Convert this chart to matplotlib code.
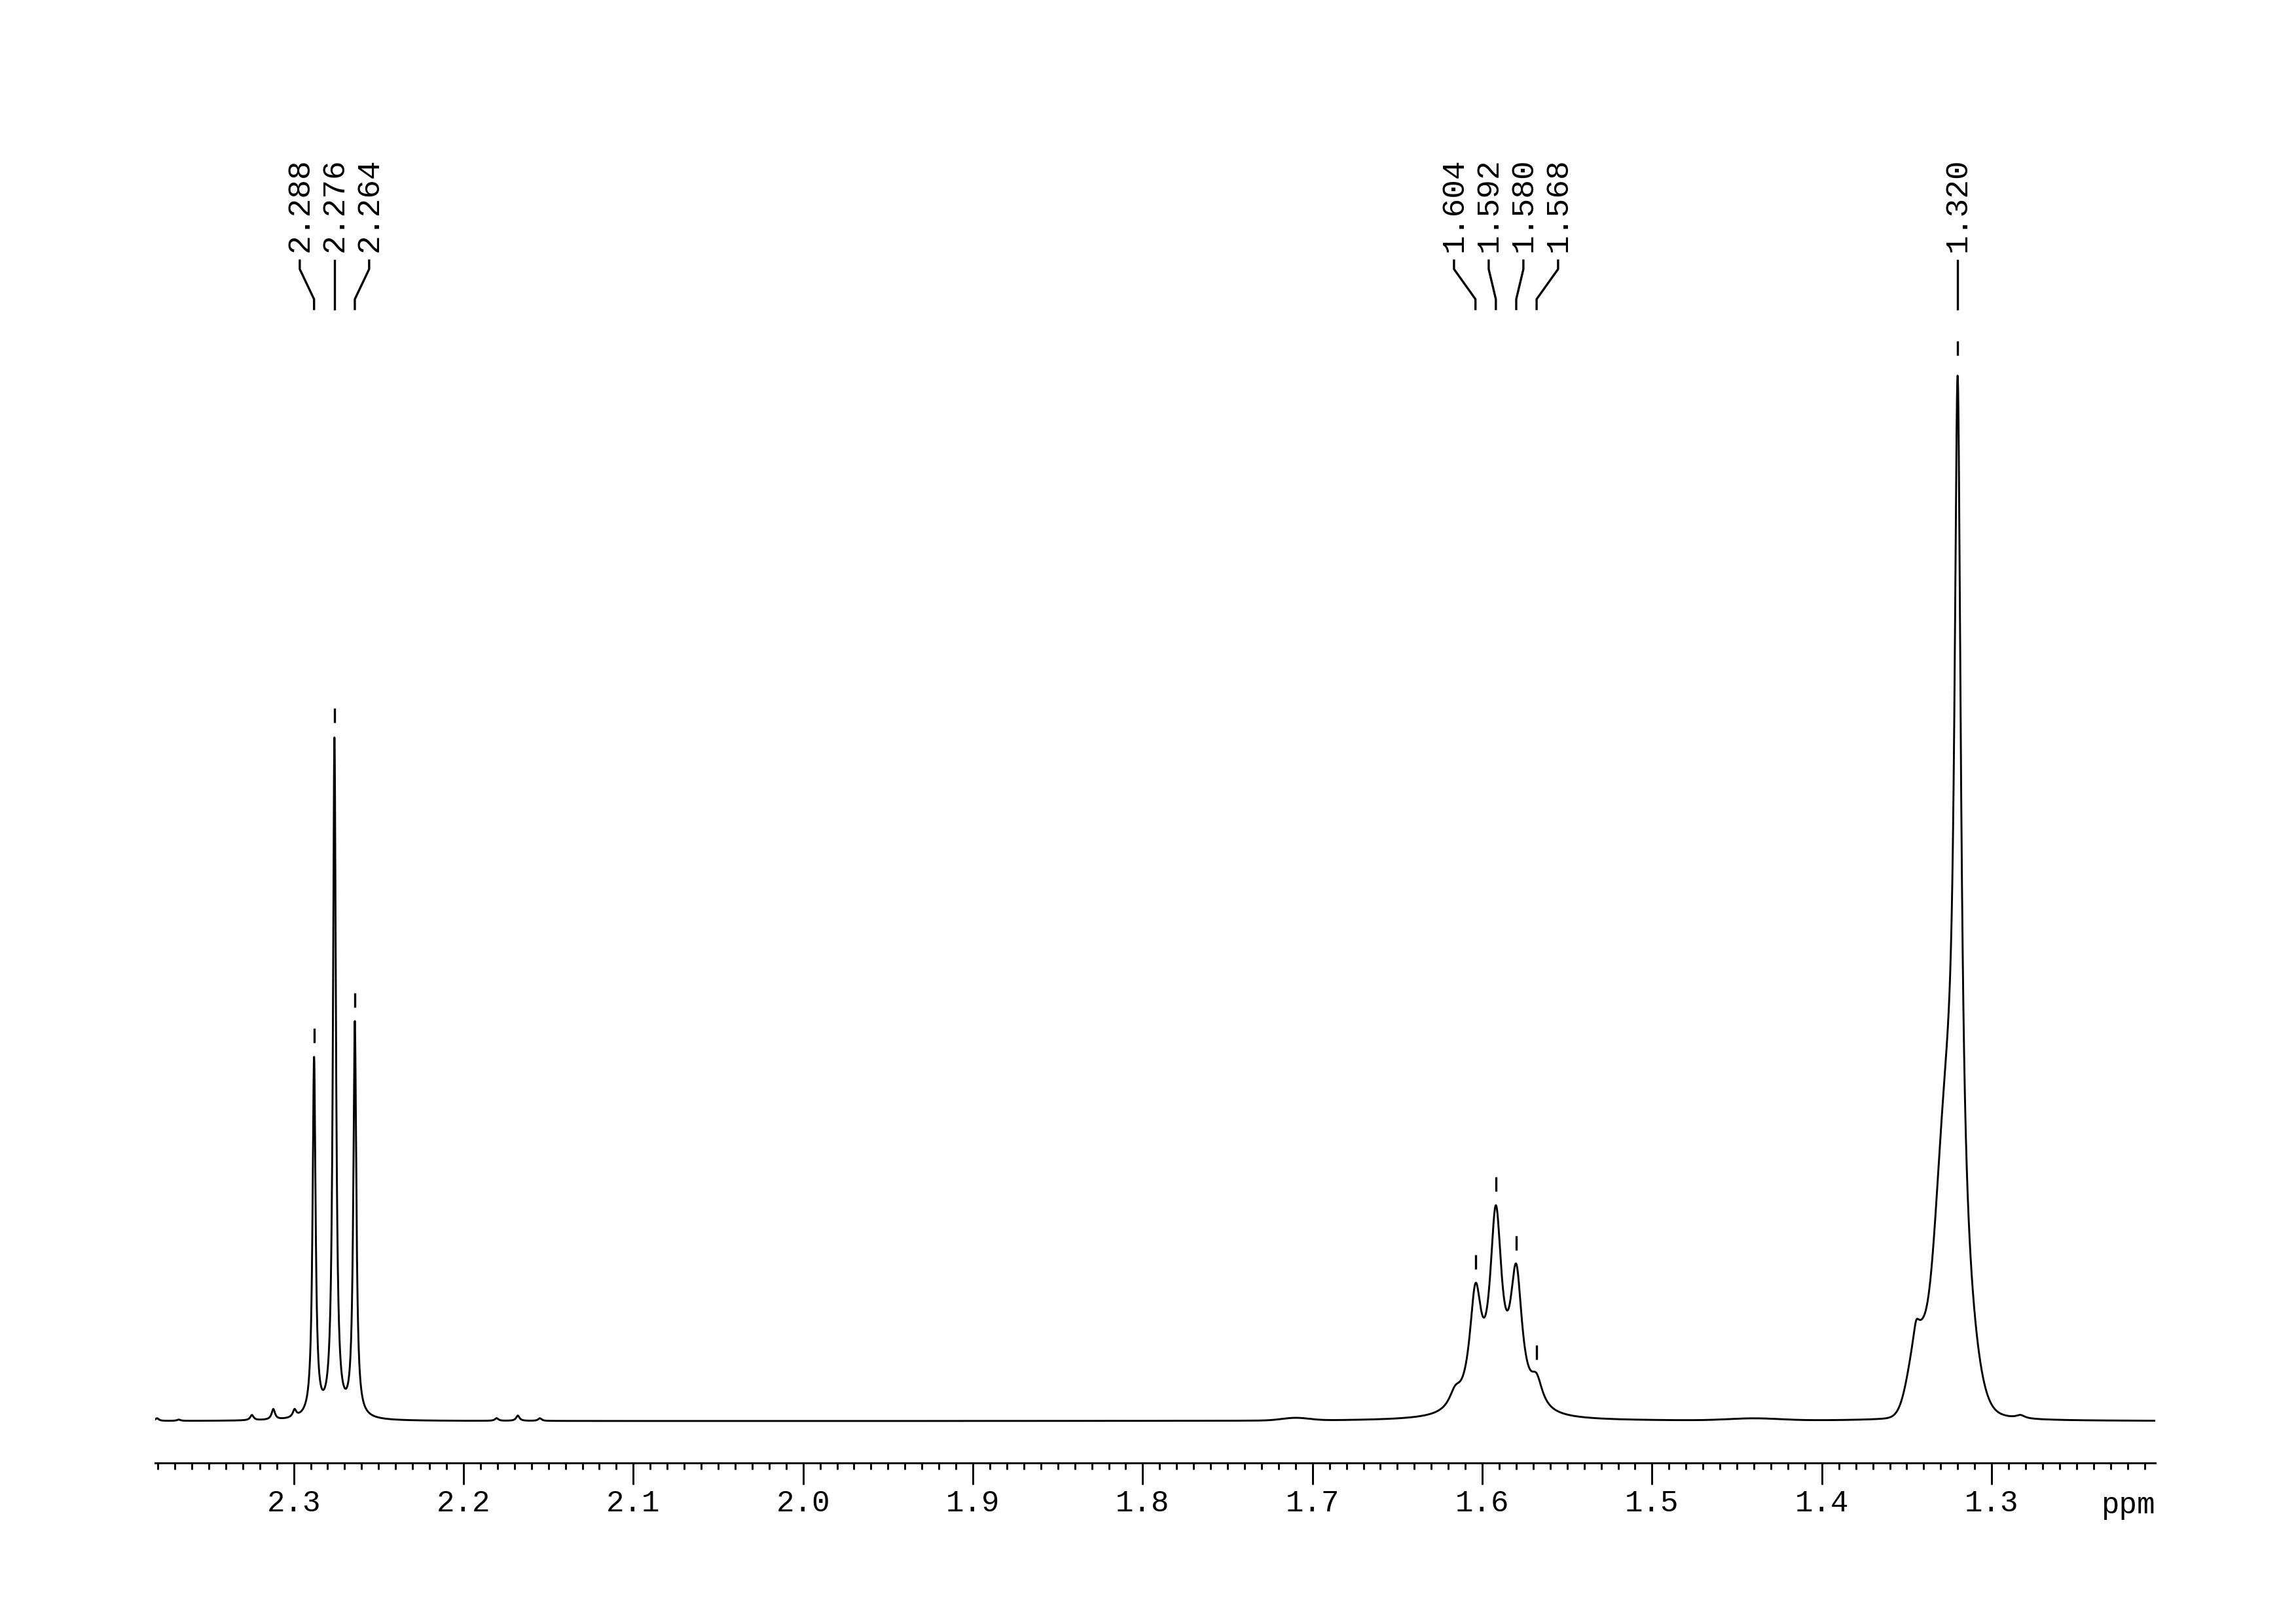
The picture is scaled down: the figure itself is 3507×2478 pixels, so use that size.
import matplotlib
matplotlib.use("Agg")
import matplotlib.pyplot as plt
import matplotlib.transforms as mtransforms
import numpy as np

# sharp lines: position (ppm), amplitude (relative, tallest peak = 100), half width (ppm)
line_ppm = [2.3805, 2.3677, 2.3246, 2.3120, 2.2995,
            2.288, 2.276, 2.264,
            2.1805, 2.168, 2.155,
            1.616, 1.604, 1.592, 1.580, 1.568,
            1.3445, 1.320, 1.283]
line_amp = [0.25, 0.12, 0.5, 1.0, 0.7,
            34.1, 64.5, 37.5,
            0.25, 0.5, 0.25,
            1.5, 10.6, 17.9, 12.4, 2.5,
            1.5, 78.0, 0.3]
line_hwhm = [0.0012, 0.0012, 0.0012, 0.0012, 0.0012,
             0.00105, 0.00105, 0.00105,
             0.0012, 0.0012, 0.0012,
             0.0042, 0.0042, 0.0042, 0.0042, 0.0042,
             0.002, 0.0022, 0.003]

# broad humps under the lines: position (ppm), amplitude, sigma (ppm)
hump_ppm = [1.710, 1.440, 1.320, 1.328, 1.3435]
hump_amp = [0.25, 0.2, 14.0, 18.0, 7.0]
hump_sigma = [0.008, 0.015, 0.008, 0.006, 0.0055]

# observed tops of the picked peaks (for the small markers above them)
picked_ppm = [2.288, 2.276, 2.264, 1.604, 1.592, 1.580, 1.568, 1.320]
picked_top = [34.6, 65.1, 38.0, 13.1, 20.5, 14.9, 4.5, 100.0]

label_groups = [
    ['2.288', '2.276', '2.264'],
    ['1.604', '1.592', '1.580', '1.568'],
    ['1.320'],
]

x_left, x_right = 2.3817, 1.2038
label_step = 0.02043  # ppm between neighbouring labels

ppm = np.linspace(x_left, x_right, 14000)
spec = np.zeros_like(ppm)
for x0, a, w in zip(line_ppm, line_amp, line_hwhm):
    spec += a / (1.0 + ((ppm - x0) / w) ** 2)
for x0, a, s in zip(hump_ppm, hump_amp, hump_sigma):
    spec += a * np.exp(-0.5 * ((ppm - x0) / s) ** 2)

plt.rcParams['font.family'] = ['Liberation Mono', 'DejaVu Sans Mono']

fig = plt.figure(figsize=(11.693, 8.263), dpi=300)
ax = fig.add_axes([0.06748, 0.09814, 0.87087, 0.71105])

ax.plot(ppm, spec, color='black', linewidth=0.7)
ax.set_xlim(x_left, x_right)
ax.set_ylim(-3.966, 105.79)

for side in ['left', 'right', 'top']:
    ax.spines[side].set_visible(False)
ax.spines['bottom'].set_linewidth(0.7)
ax.set_yticks([])
major = np.arange(1.3, 2.31, 0.1)
ax.set_xticks(major)
ax.set_xticklabels([f'{v:.1f}' for v in major])
ax.set_xticks(np.arange(1.21, 2.385, 0.01), minor=True)
ax.tick_params(axis='x', which='major', length=7.9, width=0.7, pad=1.5, labelsize=11)
ax.tick_params(axis='x', which='minor', length=2.4, width=0.7)
ax.text(1.0, -0.0433, 'ppm', transform=ax.transAxes, ha='right', va='baseline', fontsize=11)

# peak labels, connectors and peak markers
trans = mtransforms.blended_transform_factory(ax.transData, ax.transAxes)
px_unit = 1762.7 / (105.79 + 3.966)  # pixels per intensity unit
gap, mlen = 22 / px_unit, 22 / px_unit
for group in label_groups:
    vals = [float(s) for s in group]
    center = np.mean(vals)
    n = len(vals)
    for k, (s, v) in enumerate(zip(group, vals)):
        lx = center - (k - (n - 1) / 2) * label_step
        ax.text(lx, 1.0499, s, rotation=90, ha='center', va='bottom',
                fontsize=11.5, transform=trans, clip_on=False)
        ax.plot([lx, lx, v, v], [1.0420, 1.0346, 1.0085, 1.0], color='black',
                linewidth=0.8, transform=trans, clip_on=False)

for v, top in zip(picked_ppm, picked_top):
    ax.vlines(v, top + gap, top + gap + mlen, color='black', linewidth=0.8)

fig.savefig('out.png', dpi=300)
